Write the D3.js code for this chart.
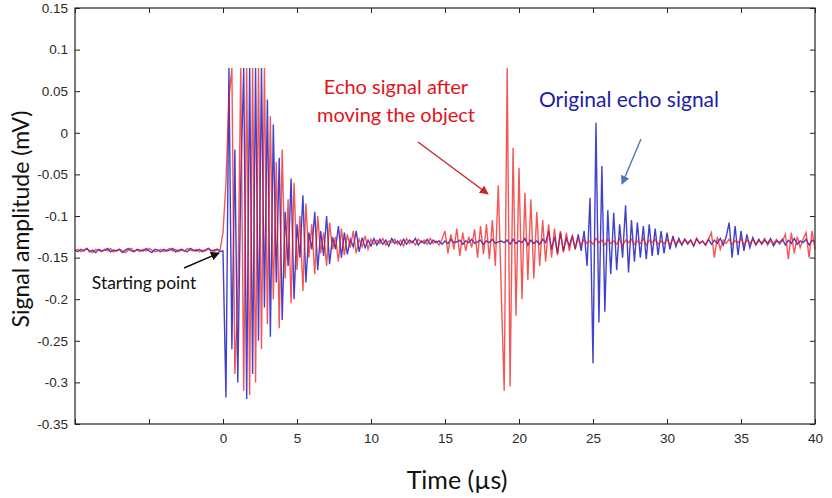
<!DOCTYPE html>
<html><head><meta charset="utf-8">
<script src="https://cdn.jsdelivr.net/npm/d3@7/dist/d3.min.js"></script>
<style>body{margin:0;background:#fff}svg{display:block}</style>
</head><body>
<svg id="c" width="832" height="498"></svg>
<script>
// sampling: first sample time and step, in microseconds
const startTime = -10;
const stepTime = 0.2;
// amplitudes in thousandths of a mV (1e-3 mV), one every 0.2 µs from -10 µs to 40 µs
const originalEcho = [
 -141,-143,-140,-142,-139,-143,-141,-144,-140,-142,
 -141,-139,-143,-141,-142,-140,-144,-141,-139,-142,
 -143,-140,-141,-142,-139,-142,-144,-140,-141,-143,
 -140,-142,-141,-139,-143,-141,-140,-142,-143,-139,
 -141,-142,-140,-143,-141,-139,-142,-141,-140,-143,
 -142,-318,78,-260,-20,-300,-60,78,-320,78,
 -290,78,-250,78,-210,40,-245,10,-180,-30,
 -225,-95,-160,-55,-200,-110,-150,-75,-180,-120,
 -140,-95,-165,-118,-148,-100,-158,-125,-140,-112,
 -150,-120,-146,-128,-137,-118,-143,-126,-138,-129,
 -136,-127,-135,-128,-134,-129,-136,-127,-133,-130,
 -135,-128,-134,-129,-132,-127,-135,-130,-133,-128,
 -134,-129,-132,-130,-134,-130,-133,-128,-132,-131,
 -129,-134,-130,-132,-128,-133,-131,-129,-134,-130,
 -132,-128,-133,-131,-130,-132,-129,-134,-128,-133,
 -130,-132,-127,-135,-129,-133,-130,-134,-128,-132,
 -118,-140,-125,-145,-120,-142,-127,-136,-124,-140,
 -122,-142,-118,-160,-78,-277,12,-228,-40,-215,
 -93,-170,-96,-165,-110,-150,-87,-168,-105,-155,
 -108,-150,-112,-152,-110,-148,-115,-147,-118,-145,
 -120,-140,-124,-137,-127,-135,-128,-134,-129,-136,
 -127,-133,-130,-135,-128,-134,-129,-133,-127,-135,
 -125,-108,-150,-112,-147,-118,-142,-122,-138,-126,
 -135,-128,-134,-129,-133,-127,-136,-130,-132,-128,
 -135,-129,-133,-127,-134,-130,-132,-128,-135,-129,
 -131
];
const movedEcho = [
 -142,-140,-143,-141,-139,-142,-144,-140,-141,-143,
 -140,-142,-139,-143,-141,-140,-142,-144,-141,-139,
 -142,-141,-143,-140,-142,-139,-141,-143,-142,-140,
 -143,-141,-139,-142,-140,-143,-141,-142,-139,-141,
 -142,-140,-143,-141,-142,-139,-141,-143,-140,-141,
 -120,-60,40,78,-290,-200,78,-310,78,-315,
 78,-300,78,-260,78,-230,20,-200,-35,-235,
 -20,-175,-80,-205,-60,-165,-100,-190,-85,-150,
 -110,-170,-100,-145,-120,-160,-108,-140,-125,-155,
 -115,-147,-122,-138,-118,-145,-128,-137,-124,-140,
 -128,-134,-129,-133,-127,-135,-130,-132,-128,-134,
 -129,-136,-127,-133,-130,-135,-128,-132,-129,-134,
 -127,-133,-130,-135,-128,-118,-145,-122,-140,-115,
 -148,-120,-142,-125,-138,-116,-150,-112,-146,-110,
 -152,-105,-160,-63,-190,-310,78,-305,-18,-220,
 -42,-200,-72,-177,-80,-175,-95,-160,-105,-155,
 -110,-150,-115,-147,-118,-144,-120,-142,-124,-138,
 -127,-135,-128,-133,-130,-134,-127,-132,-129,-135,
 -128,-133,-130,-134,-127,-136,-129,-132,-128,-134,
 -130,-133,-127,-135,-129,-132,-128,-134,-130,-133,
 -128,-135,-127,-133,-130,-134,-128,-132,-129,-136,
 -127,-133,-130,-135,-128,-120,-150,-125,-140,-129,
 -133,-128,-134,-130,-132,-127,-135,-129,-133,-128,
 -134,-130,-132,-127,-135,-129,-133,-128,-134,-130,
 -122,-152,-120,-145,-125,-138,-128,-120,-150,-118,
 -140
];
const timeTicks = [-10,-5,0,5,10,15,20,25,30,35,40];
const timeLabels = ["","","0","5","10","15","20","25","30","35","40"];
const ampTicks = [0.15,0.1,0.05,0,-0.05,-0.1,-0.15,-0.2,-0.25,-0.3,-0.35];
const ampLabels = ["0.15","0.1","0.05","0","-0.05","-0.1","-0.15","-0.2","-0.25","-0.3","-0.35"];

const svg = d3.select("#c");
const L = 75, R = 815, T = 8, B = 424;
const x = d3.scaleLinear().domain([-10, 40]).range([L, R]);
const y = d3.scaleLinear().domain([-0.35, 0.15]).range([B, T]);

const toPts = arr => arr.map((v, i) => [startTime + i * stepTime, v / 1000]);
const line = d3.line().x(d => x(d[0])).y(d => y(d[1]));

svg.append("path").datum(toPts(originalEcho)).attr("d", line)
  .attr("fill", "none").attr("stroke", "#1212c0").attr("stroke-opacity", 0.8).attr("stroke-width", 1.4);
svg.append("path").datum(toPts(movedEcho)).attr("d", line)
  .attr("fill", "none").attr("stroke", "#f01010").attr("stroke-opacity", 0.7).attr("stroke-width", 1.4);

const tickFont = g => g.selectAll("text").attr("font-family", "'Liberation Sans', Arial, sans-serif")
  .attr("font-size", 13.5).attr("fill", "#2a2a2a");
const gx = svg.append("g").attr("transform", `translate(0,${B})`)
  .call(d3.axisBottom(x).tickValues(timeTicks).tickSize(-5).tickPadding(9)
    .tickFormat((d, i) => timeLabels[i]));
gx.call(tickFont);
const gy = svg.append("g").attr("transform", `translate(${L},0)`)
  .call(d3.axisLeft(y).tickValues(ampTicks).tickSize(-5).tickPadding(7)
    .tickFormat((d, i) => ampLabels[i]));
gy.call(tickFont);
svg.append("g").attr("transform", `translate(0,${T})`)
  .call(d3.axisTop(x).tickValues(timeTicks).tickSize(-5).tickFormat(""));
svg.append("g").attr("transform", `translate(${R},0)`)
  .call(d3.axisRight(y).tickValues(ampTicks).tickSize(-5).tickFormat(""));
svg.selectAll(".domain").remove();
svg.selectAll(".tick line").attr("stroke", "#222");
svg.append("rect").attr("x", L).attr("y", T).attr("width", R - L).attr("height", B - T)
  .attr("fill", "none").attr("stroke", "#222").attr("stroke-width", 1.2);

const titleFont = "Lato, 'Open Sans', sans-serif";
svg.append("text").attr("transform", "translate(29,219) rotate(-90)").attr("text-anchor", "middle")
  .attr("font-family", titleFont).attr("font-size", 23).attr("fill", "#111").text("Signal amplitude (mV)");
svg.append("text").attr("x", 457).attr("y", 489).attr("text-anchor", "middle")
  .attr("font-family", titleFont).attr("font-size", 25).attr("fill", "#111").text("Time (µs)");

// annotations
const defs = svg.append("defs");
function marker(id, color) {
  defs.append("marker").attr("id", id).attr("viewBox", "0 0 10 10").attr("refX", 9).attr("refY", 5)
    .attr("markerWidth", 9).attr("markerHeight", 9).attr("markerUnits", "userSpaceOnUse").attr("orient", "auto")
    .append("path").attr("d", "M0,0 L10,5 L0,10 Z").attr("fill", color);
}
marker("mk", "#111"); marker("mr", "#c4282c"); marker("mb", "#4a78b8");
function arrow(x1, y1, x2, y2, color, m) {
  svg.append("line").attr("x1", x1).attr("y1", y1).attr("x2", x2).attr("y2", y2)
    .attr("stroke", color).attr("stroke-width", 1.4).attr("marker-end", `url(#${m})`);
}
arrow(184, 268, 219, 253, "#111", "mk");
arrow(418, 142, 488, 194, "#c4282c", "mr");
arrow(641, 139, 622, 184, "#4a78b8", "mb");

svg.append("text").attr("x", 396).attr("y", 94).attr("text-anchor", "middle")
  .attr("font-family", titleFont).attr("font-size", 20).attr("fill", "#e0151b").text("Echo signal after");
svg.append("text").attr("x", 396).attr("y", 122).attr("text-anchor", "middle")
  .attr("font-family", titleFont).attr("font-size", 20).attr("fill", "#e0151b").text("moving the object");
svg.append("text").attr("x", 629).attr("y", 107).attr("text-anchor", "middle")
  .attr("font-family", titleFont).attr("font-size", 21).attr("fill", "#1d1da5").text("Original echo signal");
svg.append("text").attr("x", 144).attr("y", 289).attr("text-anchor", "middle")
  .attr("font-family", titleFont).attr("font-size", 17.5).attr("fill", "#111").text("Starting point");
</script>
</body></html>
